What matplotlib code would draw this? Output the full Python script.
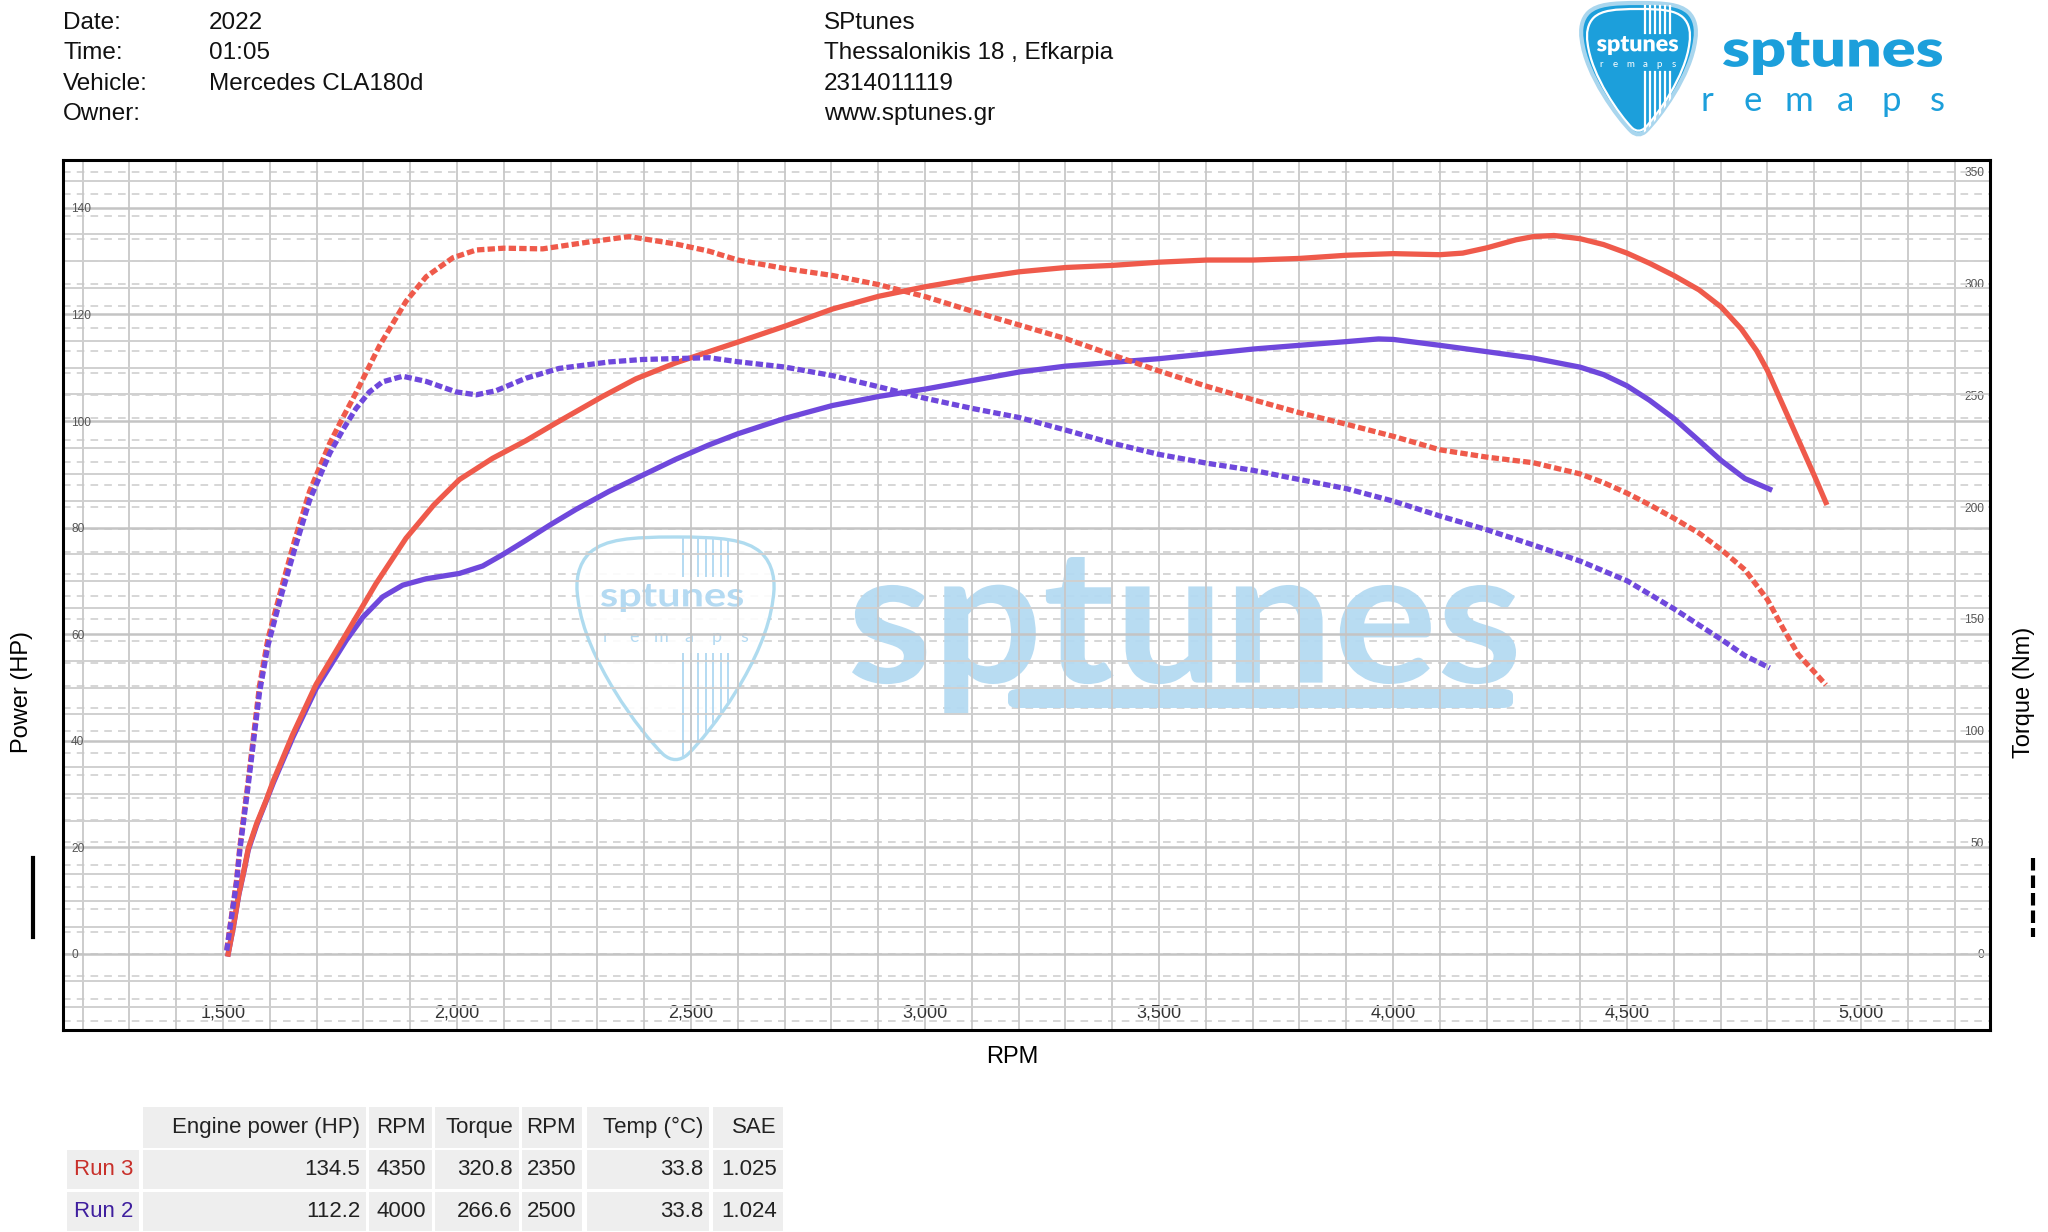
import numpy as np
import matplotlib.pyplot as plt
from matplotlib.textpath import TextPath
from matplotlib.font_manager import FontProperties
from matplotlib.patches import PathPatch, Rectangle, FancyBboxPatch
from matplotlib.path import Path
from matplotlib.lines import Line2D
import matplotlib.transforms as mtransforms

plt.rcParams['font.family'] = ['Liberation Sans', 'DejaVu Sans']

# ---- curves ----
# Run 3 power (HP)
rpm3_p = [1511, 1522, 1534, 1545, 1554, 1572, 1592, 1608, 1649, 1699,
          1763, 1827, 1891, 1950, 2005, 2076, 2147, 2211, 2311, 2382,
          2467, 2538, 2600, 2701, 2802, 2901, 3001, 3101, 3202, 3301,
          3401, 3501, 3602, 3701, 3800, 3901, 4001, 4100, 4149, 4201,
          4263, 4300, 4344, 4400, 4450, 4500, 4548, 4600, 4654, 4701,
          4744, 4777, 4800, 4834, 4866, 4901, 4925]
pow3 = [0, 5.1, 11.4, 15.8, 19.8, 24.5, 28.8, 32.6, 41.2, 50.6,
        60.0, 69.5, 78.0, 84.2, 89.0, 93.0, 96.3, 99.6, 104.6, 107.9,
        110.9, 113.0, 114.8, 117.8, 121.0, 123.4, 125.2, 126.7, 128.0, 128.8,
        129.2, 129.8, 130.2, 130.2, 130.5, 131.1, 131.4, 131.2, 131.5, 132.5,
        134.0, 134.6, 134.8, 134.2, 133.1, 131.5, 129.6, 127.3, 124.6, 121.4,
        117.3, 113.2, 109.5, 102.8, 96.5, 89.6, 84.7]

# Run 3 torque (Nm)
rpm3_t = [1508, 1519, 1529, 1536, 1545, 1553, 1578, 1596, 1624, 1653,
          1685, 1728, 1756, 1784, 1834, 1891, 1934, 1991, 2041, 2100,
          2183, 2289, 2368, 2467, 2538, 2600, 2701, 2802, 2901, 3001,
          3101, 3202, 3301, 3401, 3501, 3602, 3701, 3800, 3901, 4001,
          4100, 4201, 4300, 4400, 4450, 4500, 4548, 4600, 4654, 4701,
          4752, 4800, 4834, 4866, 4901, 4925]
tq3 = [1.8, 18.2, 33.1, 48, 63, 76, 120, 141, 163, 185,
       207, 228.5, 240, 251, 272, 292, 303, 311.5, 315, 315.8,
       315.5, 318.8, 321, 317.7, 314.5, 310.5, 306.7, 303.6, 299.5, 294.1,
       287.6, 281.4, 275.3, 268, 260.8, 254.0, 248, 242.2, 237.0, 231.6,
       225.6, 222.3, 219.8, 214.8, 210.9, 206.2, 201.0, 195.0, 188.3, 181.0,
       171.9, 158.6, 145.5, 134.0, 126.0, 120.4]

# Run 2 power (HP)
rpm2_p = [1511, 1522, 1534, 1545, 1554, 1572, 1608, 1649, 1699, 1763,
          1799, 1841, 1884, 1934, 2005, 2055, 2097, 2147, 2197, 2254,
          2325, 2396, 2467, 2538, 2600, 2701, 2802, 2901, 3001, 3101,
          3202, 3301, 3401, 3501, 3602, 3701, 3800, 3901, 3969, 4001,
          4100, 4201, 4300, 4400, 4450, 4500, 4548, 4600, 4654, 4701,
          4752, 4805]
pow2 = [0, 5.0, 11.2, 15.6, 19.5, 24.2, 32.2, 40.6, 49.8, 58.8,
        63.2, 67.0, 69.2, 70.4, 71.4, 72.8, 74.9, 77.6, 80.4, 83.4,
        86.8, 89.8, 92.8, 95.5, 97.6, 100.5, 102.9, 104.6, 106.0, 107.6,
        109.2, 110.3, 111.0, 111.7, 112.6, 113.5, 114.2, 114.9, 115.4, 115.3,
        114.2, 113.0, 111.8, 110.1, 108.7, 106.6, 103.9, 100.5, 96.3, 92.6,
        89.2, 87.2]

# Run 2 torque (Nm)
rpm2_t = [1508, 1519, 1529, 1536, 1545, 1553, 1578, 1596, 1624, 1653,
          1685, 1728, 1756, 1784, 1813, 1841, 1884, 1934, 1998, 2041,
          2083, 2147, 2218, 2325, 2396, 2538, 2600, 2701, 2802, 2901,
          3001, 3101, 3202, 3301, 3401, 3501, 3602, 3701, 3800, 3901,
          4001, 4100, 4201, 4300, 4400, 4500, 4600, 4701, 4752, 4805]
tq2 = [1.5, 17.5, 32, 46.5, 61, 74, 117, 138, 160, 181,
       203, 224, 234.5, 244, 251.5, 256, 258.5, 256.2, 251.5, 250.2,
       252, 257.6, 262, 264.9, 266, 266.8, 265, 262.6, 258.8, 253.8,
       248.6, 244.1, 240, 234.4, 228.5, 223.5, 219.6, 216.4, 212.3, 208.2,
       202.6, 196.0, 189.8, 183.0, 175.8, 167.0, 154.5, 140.8, 133.5, 128.0]

x_ticks = [1500, 2000, 2500, 3000, 3500, 4000, 4500, 5000]
x_labels = ['1,500', '2,000', '2,500', '3,000', '3,500', '4,000', '4,500', '5,000']
p_ticks = [0, 20, 40, 60, 80, 100, 120, 140]
t_ticks = [0, 50, 100, 150, 200, 250, 300, 350]

hdr_keys = ['Date:', 'Time:', 'Vehicle:', 'Owner:']
hdr_vals = ['2022', '01:05', 'Mercedes CLA180d', '']
shop_lines = ['SPtunes', 'Thessalonikis 18 , Efkarpia', '2314011119', 'www.sptunes.gr']

tbl_cols = ['Engine power (HP)', 'RPM', 'Torque', 'RPM', 'Temp (°C)', 'SAE']
run_names = ['Run 3', 'Run 2']
run_power = ['134.5', '112.2']
run_power_rpm = ['4350', '4000']
run_torque = ['320.8', '266.6']
run_torque_rpm = ['2350', '2500']
run_temp = ['33.8', '33.8']
run_sae = ['1.025', '1.024']

RED = '#ef5a4b'
PURPLE = '#6f48dc'
RUN_COLORS = ['#c8302a', '#3f1f9e']
BLUE = '#1c9fdb'
WM = '#b4daf2'

W, H = 2048, 1232
fig = plt.figure(figsize=(W / 100, H / 100), dpi=100)


def fx(px):
    return px / W


def fy(py):
    return 1 - py / H


# ---- axes: torque grid underneath, power on top, torque curves on top ----
rect = [fx(63), fy(1030), (1990 - 63) / W, (1030 - 160) / H]
xlim = (1500 - (223 - 63) / 0.468, 1500 + (1990 - 223) / 0.468)
plim = ((954 - 1030) / 5.33, (954 - 160) / 5.33)
tlim = ((954 - 1030) / 2.235, (954 - 160) / 2.235)

axT = fig.add_axes(rect, zorder=1)
axT.set_xlim(xlim)
axT.set_ylim(tlim)
axT.set_xticks([])
axT.yaxis.tick_right()
axT.set_yticks(t_ticks, labels=[str(v) for v in t_ticks], ha='right')
axT.set_yticks(np.arange(-30, 360, 10), minor=True)
axT.tick_params(axis='y', which='both', length=0, pad=-4.3, labelsize=8.6,
                labelcolor='#555555')
axT.grid(axis='y', which='both', color='#cccccc', lw=1.1, ls=(0, (5, 4)))
for s in axT.spines.values():
    s.set_visible(False)

axP = fig.add_axes(rect, zorder=2)
axP.patch.set_visible(False)
axP.set_xlim(xlim)
axP.set_ylim(plim)
axP.set_xticks(x_ticks, labels=x_labels, va='center')
axP.set_xticks(np.arange(1200, 5300, 100), minor=True)
axP.set_yticks(p_ticks, labels=[str(v) for v in p_ticks], ha='left')
axP.set_yticks(np.arange(-10, 150, 5), minor=True)
axP.tick_params(axis='x', which='both', length=0, pad=-12.2, labelsize=13,
                labelcolor='#333333')
axP.tick_params(axis='y', which='both', length=0, pad=-5.8, labelsize=8.6,
                labelcolor='#555555')
axP.grid(axis='x', which='both', color='#c8c8c8', lw=1.3)
axP.grid(axis='y', which='major', color='#c4c4c4', lw=1.8)
axP.grid(axis='y', which='minor', color='#d0d0d0', lw=1.4)
for s in axP.spines.values():
    s.set_color('black')
    s.set_linewidth(2.2)

axP.plot(rpm2_p, pow2, color=PURPLE, lw=3.8, solid_joinstyle='round', zorder=3)
axP.plot(rpm3_p, pow3, color=RED, lw=3.8, solid_joinstyle='round', zorder=4)

axC = fig.add_axes(rect, zorder=3)
axC.set_xlim(xlim)
axC.set_ylim(tlim)
axC.axis('off')
axC.plot(rpm3_t, tq3, color=RED, lw=3.8, ls=(0, (1.4, 0.6)), dash_capstyle='butt')
axC.plot(rpm2_t, tq2, color=PURPLE, lw=3.8, ls=(0, (1.4, 0.6)), dash_capstyle='butt')

# ---- axis titles and line-style keys ----
fig.text(fx(22), fy(692), 'Power (HP)', rotation=90, ha='center', va='center', fontsize=17)
fig.text(fx(2024), fy(692), 'Torque (Nm)', rotation=90, ha='center', va='center', fontsize=17)
fig.text(fx(1012), fy(1057), 'RPM', ha='center', va='center', fontsize=17)
fig.add_artist(Line2D([fx(33), fx(33)], [fy(858), fy(937)], color='black', lw=3,
                      transform=fig.transFigure))
fig.add_artist(Line2D([fx(2033), fx(2033)], [fy(858), fy(937)], color='black', lw=3,
                      ls=(0, (3, 1.2)), dash_capstyle='butt', transform=fig.transFigure))

# ---- header ----
row_y = [23, 53, 84, 114]
for k, v, s, y in zip(hdr_keys, hdr_vals, shop_lines, row_y):
    fig.text(fx(63), fy(y), k, va='center', fontsize=17.5, color='#111111')
    fig.text(fx(209), fy(y), v, va='center', fontsize=17.5, color='#111111')
    fig.text(fx(824), fy(y), s, va='center', fontsize=17.5, color='#111111')


# ---- logo helpers ----
PICK_UV = [(0, 1.0), (0.45, 1.0), (0.7, 0.99), (0.85, 0.93),
           (0.97, 0.88), (1.0, 0.8), (0.97, 0.72),
           (0.9, 0.45), (0.35, 0.12), (0.12, 0.02),
           (0.04, -0.01), (-0.04, -0.01), (-0.12, 0.02),
           (-0.35, 0.12), (-0.9, 0.45), (-0.97, 0.72),
           (-1.0, 0.8), (-0.97, 0.88), (-0.85, 0.93),
           (-0.7, 0.99), (-0.45, 1.0), (0, 1.0), (0, 1.0)]
PICK_CODES = [Path.MOVETO] + [Path.CURVE4] * 21 + [Path.CLOSEPOLY]


def pick_path(box, shrink=0.0):
    x0, y0, x1, y1 = box
    cx = (x0 + x1) / 2
    hw = (x1 - x0) / 2 - shrink
    top = y0 + shrink
    hh = (y1 - y0) - 1.6 * shrink
    verts = [(fx(cx + u * hw), fy(top + (1 - v) * hh)) for u, v in PICK_UV]
    return Path(verts, PICK_CODES)


def fit_text(s, box, color, weight='bold', family='Lato', z=5, alpha=1.0):
    x0, y0, x1, y1 = box
    tp = TextPath((0, 0), s, size=100, prop=FontProperties(family=family, weight=weight))
    ext = tp.get_extents()
    tr = (mtransforms.Affine2D()
          .translate(-ext.x0, -ext.y0)
          .scale((x1 - x0) / ext.width / W, (y1 - y0) / ext.height / H)
          .translate(fx(x0), fy(y1)))
    p = PathPatch(tr.transform_path(tp), facecolor=color, edgecolor='none',
                  transform=fig.transFigure, zorder=z, alpha=alpha)
    fig.add_artist(p)
    return p


def spaced(s, xc0, xc1, y, size, color, weight='normal', z=5, alpha=1.0):
    xs = np.linspace(xc0, xc1, len(s))
    for ch, x in zip(s, xs):
        fig.text(fx(x), fy(y), ch, ha='center', va='baseline', fontsize=size,
                 color=color, family='Lato', weight=weight, zorder=z, alpha=alpha)


def stripes(x0, x1, y0, y1, n, color, clip, lw=1.6, z=6):
    for x in np.linspace(x0, x1, n):
        ln = Line2D([fx(x), fx(x)], [fy(y0), fy(y1)], color=color, lw=lw,
                    transform=fig.transFigure, zorder=z)
        ln.set_clip_path(clip)
        fig.add_artist(ln)


# ---- top right logo ----
lbox = (1580, 3, 1697, 134)
glow = PathPatch(pick_path(lbox), facecolor=BLUE, edgecolor='#a9d6ee', lw=3,
                 transform=fig.transFigure, zorder=4)
fig.add_artist(glow)
inner = PathPatch(pick_path(lbox, 6), facecolor='none', edgecolor='white', lw=1.6,
                  transform=fig.transFigure, zorder=5)
fig.add_artist(inner)
stripes(1645, 1670, 6, 33, 6, 'white', glow)
stripes(1645, 1670, 72, 134, 6, 'white', glow)
fit_text('sptunes', (1597, 36, 1678, 55), 'white', weight='heavy', z=7)
spaced('remaps', 1601, 1674, 67, 7, 'white', z=7)

fit_text('sptunes', (1723, 32, 1942, 75), BLUE, weight='heavy', z=5)
spaced('remaps', 1707, 1937, 111, 25, BLUE)

# ---- watermark in the plot ----
wbox = (575, 537, 776, 759)
wpick = PathPatch(pick_path(wbox), facecolor='white', edgecolor='#a6d8ee', lw=2.4,
                  transform=fig.transFigure, zorder=1.5, alpha=0.9)
fig.add_artist(wpick)
stripes(683, 728, 537, 576, 7, WM, wpick, lw=1.4, z=1.6)
stripes(683, 728, 654, 760, 7, WM, wpick, lw=1.4, z=1.6)
fit_text('sptunes', (601, 584, 743, 612), WM, weight='bold', z=1.6)
spaced('remaps', 606, 744, 642, 13, WM, z=1.6)

fit_text('sptunes', (852, 557, 1516, 714), WM, weight='bold', z=1.6, alpha=0.95)
bar = FancyBboxPatch((fx(1008), fy(708)), fx(1513) - fx(1008), (708 - 689) / H,
                     boxstyle='round,pad=0,rounding_size=0.005', facecolor=WM,
                     edgecolor='none', transform=fig.transFigure, zorder=1.6, alpha=0.95)
fig.add_artist(bar)

# ---- results table ----
col_edges = [(67, 139), (143, 366), (369, 432), (435, 519), (522, 582), (587, 709), (713, 783)]
row_edges = [(1107, 1148), (1150, 1189), (1192, 1231)]
table_rows = [tbl_cols]
for i in range(len(run_names)):
    table_rows.append([run_power[i], run_power_rpm[i], run_torque[i],
                       run_torque_rpm[i], run_temp[i], run_sae[i]])

for r, (ry0, ry1) in enumerate(row_edges):
    for c, (cx0, cx1) in enumerate(col_edges):
        if r == 0 and c == 0:
            continue
        fig.add_artist(Rectangle((fx(cx0), fy(ry1)), (cx1 - cx0) / W, (ry1 - ry0) / H,
                                 facecolor='#eeeeee', edgecolor='none',
                                 transform=fig.transFigure, zorder=1))
        if c == 0:
            txt, col = run_names[r - 1], RUN_COLORS[r - 1]
        else:
            txt, col = table_rows[r][c - 1], '#222222'
        fig.text(fx(cx1 - 6), fy((ry0 + ry1) / 2), txt, ha='right', va='center',
                 fontsize=16, color=col, zorder=2)

fig.savefig('out.png', dpi=100)
